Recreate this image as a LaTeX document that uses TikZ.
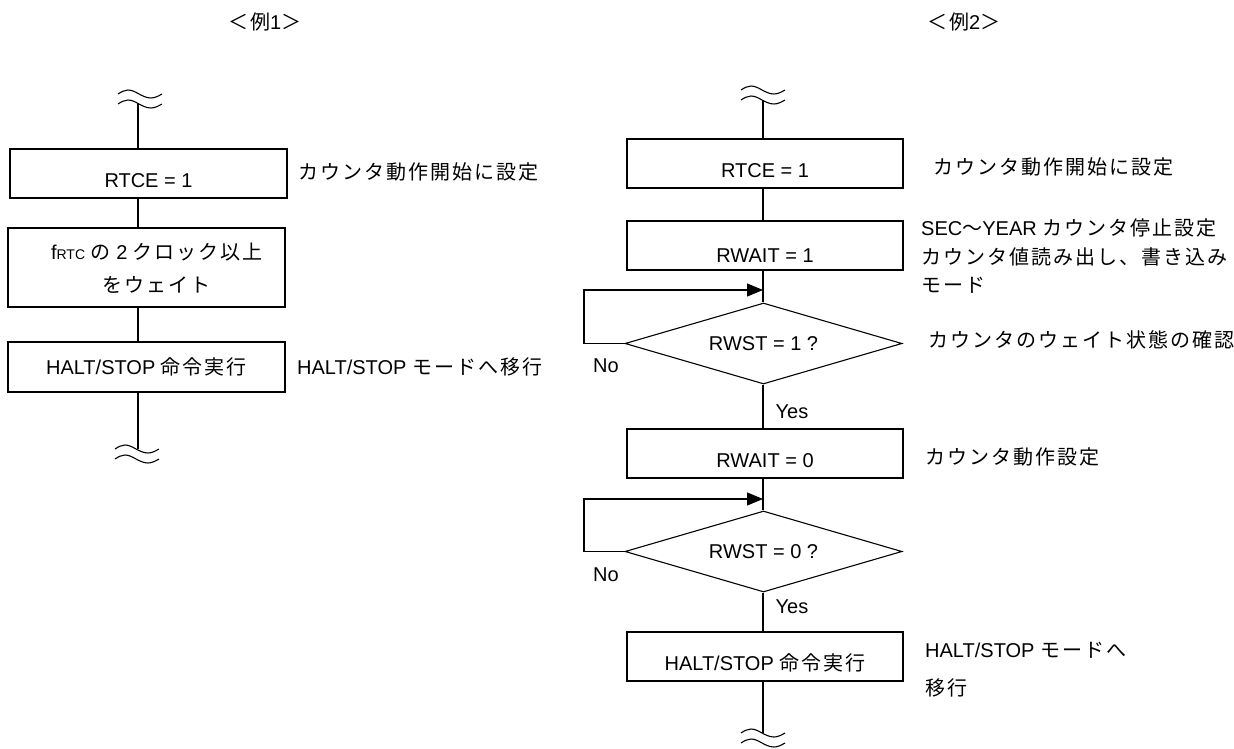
\documentclass[tikz,border=0pt]{standalone}
\usepackage{fontspec}
\setmainfont{Liberation Sans}
\newfontfamily\jp[LetterSpace=10]{Noto Sans CJK JP}
\usetikzlibrary{shapes.geometric,arrows.meta}
\begin{document}
\begin{tikzpicture}[x=1pt,y=-1pt,
  every node/.style={inner sep=0pt, font=\fontsize{20}{24}\selectfont},
  conn/.style={line width=1.1pt},
  procbox/.style={draw, line width=1.1pt, minimum width=277pt, align=center},
  decbox/.style={draw, line width=1.1pt, diamond, aspect=3.4, minimum width=277pt, minimum height=81pt},
  note/.style={anchor=base west},
  loopar/.style={line width=1.1pt, -{Triangle[length=16pt,width=13pt]}},
  breakwave/.pic={
    \draw[line width=1.1pt] (-22,-5) sin (-12,-9) cos (-1,-5) sin (11,-1) cos (22,-5);
    \draw[line width=1.1pt] (-22,5) sin (-12,1) cos (-1,5) sin (11,9) cos (22,5);
  }
]
\fill[white] (0,0) rectangle (1234,749);
\useasboundingbox (0,0) rectangle (1234,749);

% ---------- Example 1 ----------
\node[note] (h1) at (228,30) {{\jp ＜例}1{\jp ＞}};

\coordinate (LwT) at (140,99);
\coordinate (LwB) at (137,454);
\pic at (LwT) {breakwave};
\pic at (LwB) {breakwave};
\coordinate (LtopEnd) at (138,104);
\coordinate (LbotEnd) at (138,449);

\node[procbox, text height=38pt, text depth=11pt] (L1) at (148.5,173.5) {RTCE = 1};
\node[procbox, text height=64pt, text depth=15pt, font=\fontsize{20}{33}\selectfont] (L2) at (146.5,267.5)
  {\hspace*{21pt}f{\fontsize{14}{14}\selectfont RTC} {\jp の} 2 {\jp クロック以上}\\\hspace*{21pt}{\jp をウェイト}};
\node[procbox, text height=32pt, text depth=18pt] (L3) at (146.5,367) {HALT/STOP {\jp 命令実行}};

\draw[conn] (LtopEnd) -- (LtopEnd |- L1.north);
\draw[conn] (LtopEnd |- L1.south) -- (LtopEnd |- L2.north);
\draw[conn] (LtopEnd |- L2.south) -- (LtopEnd |- L3.north);
\draw[conn] (LtopEnd |- L3.south) -- (LbotEnd);

\node[note] (n1) at (298,179) {{\jp カウンタ動作開始に設定}};
\node[note] (n3) at (297,374) {HALT/STOP {\jp モードへ移行}};

% ---------- Example 2 ----------
\node[note] (h2) at (927,30) {{\jp ＜例}2{\jp ＞}};

\coordinate (RwT) at (763,95);
\coordinate (RwB) at (763,738);
\pic at (RwT) {breakwave};
\pic at (RwB) {breakwave};
\coordinate (RtopEnd) at (763,100);
\coordinate (RbotEnd) at (763,733);

\node[procbox, minimum width=276pt, text height=38pt, text depth=11pt] (R1) at (765,163.5) {RTCE = 1};
\node[procbox, minimum width=276pt, text height=41pt, text depth=8pt] (R2) at (765,245.5) {RWAIT = 1};
\node[decbox] (D1) at (763.5,343.5) {RWST = 1 ?};
\node[procbox, minimum width=276pt, text height=38pt, text depth=11pt] (R3) at (765,453.5) {RWAIT = 0};
\node[decbox] (D2) at (763.5,551.5) {RWST = 0 ?};
\node[procbox, minimum width=276pt, text height=38pt, text depth=11pt] (R4) at (765,656.5) {HALT/STOP {\jp 命令実行}};

\coordinate (T1) at (763,290);
\coordinate (K1) at (584,343.5);
\coordinate (T2) at (763,499);
\coordinate (K2) at (584,551.5);

\draw[conn] (RtopEnd) -- (RtopEnd |- R1.north);
\draw[conn] (RtopEnd |- R1.south) -- (RtopEnd |- R2.north);
\draw[conn] (RtopEnd |- R2.south) -- (RtopEnd |- D1.north);
\draw[loopar] (D1.west) -- (K1) |- (T1);
\draw[conn] (RtopEnd |- D1.south) -- (RtopEnd |- R3.north);
\draw[conn] (RtopEnd |- R3.south) -- (RtopEnd |- D2.north);
\draw[loopar] (D2.west) -- (K2) |- (T2);
\draw[conn] (RtopEnd |- D2.south) -- (RtopEnd |- R4.north);
\draw[conn] (RtopEnd |- R4.south) -- (RbotEnd);

\node (No1) at (606,366) {No};
\node (Yes1) at (792,412) {Yes};
\node (No2) at (606,575) {No};
\node (Yes2) at (792,607) {Yes};

\node[note] (m1) at (933,174) {{\jp カウンタ動作開始に設定}};
\node[note] (m2a) at (921,235) {SEC{\jp 〜}YEAR {\jp カウンタ停止設定}};
\node[note] (m2b) at (921,264) {{\jp カウンタ値読み出し、書き込み}};
\node[note] (m2c) at (921,292) {{\jp モード}};
\node[note] (m3) at (928,347) {{\jp カウンタのウェイト状態の確認}};
\node[note] (m4) at (925,464) {{\jp カウンタ動作設定}};
\node[note] (m5a) at (925,657) {HALT/STOP {\jp モードへ}};
\node[note] (m5b) at (925,695) {{\jp 移行}};
\end{tikzpicture}
\end{document}
